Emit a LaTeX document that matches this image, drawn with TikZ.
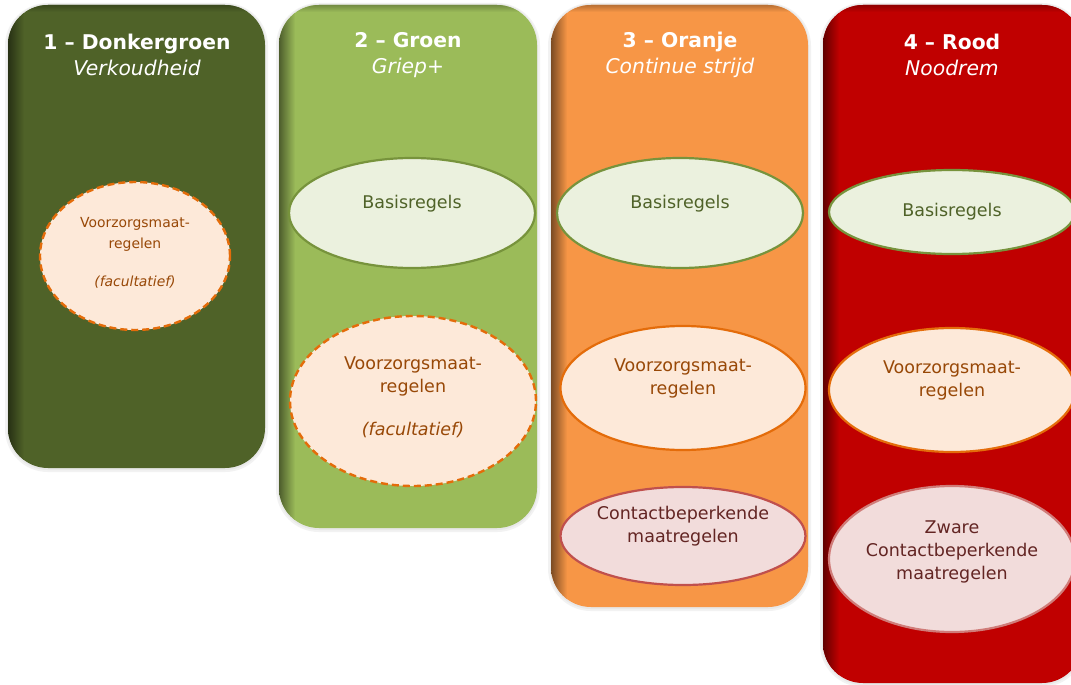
\documentclass[tikz,border=0pt]{standalone}
\usepackage{fontspec}
\setmainfont{DejaVu Sans}
\usetikzlibrary{shapes.geometric}
\definecolor{cA}{HTML}{4F6228}
\definecolor{cB}{HTML}{9BBB59}
\definecolor{cC}{HTML}{F79646}
\definecolor{cD}{HTML}{C00000}
\definecolor{fillG}{HTML}{EBF1DE}
\definecolor{lineG}{HTML}{77933C}
\definecolor{txtG}{HTML}{4F6228}
\definecolor{fillO}{HTML}{FDE9D9}
\definecolor{lineO}{HTML}{E46C0A}
\definecolor{txtO}{HTML}{984807}
\definecolor{fillR}{HTML}{F2DCDB}
\definecolor{lineR}{HTML}{C0504D}
\definecolor{txtR}{HTML}{632523}
\newcommand\levelbox[6]{% name, x1, y1, x2, y2, colour
  \fill[black!5, rounded corners=43pt] (#2-3,#3-2) rectangle (#4+3,#5+4);
  \fill[black!9, rounded corners=41pt] (#2-1,#3-1) rectangle (#4+1,#5+2);
  \node[levelshape, fill=#6, minimum width=#4pt-#2pt, minimum height=#5pt-#3pt] (#1) at ({(#2+#4)/2},{(#3+#5)/2}) {};
  \begin{scope}
    \clip[rounded corners=40pt] (#2,#3) rectangle (#4,#5);
    \shade[top color=#6!75!black, bottom color=#6] (#2,#3) rectangle (#4,#3+7);
    \shade[left color=#6!50!black, right color=#6] (#2,#3) rectangle (#2+16,#5);
  \end{scope}}
\tikzset{
  levelshape/.style={rectangle, rounded corners=40pt, inner sep=0pt, draw=none},
  titletext/.style={text=white, align=center, font=\fontsize{20.3}{26}\selectfont},
  ell/.style={ellipse, inner sep=0pt, align=center, line width=2.2pt, font=\fontsize{17.5}{23}\selectfont},
  basis/.style={ell, fill=fillG, draw=lineG, text=txtG},
  voorz/.style={ell, fill=fillO, draw=lineO, text=txtO},
  optional/.style={voorz, line width=2.4pt, dash pattern=on 7pt off 4pt},
  contact/.style={ell, fill=fillR, draw=lineR, text=txtR},
}
\begin{document}
\begin{tikzpicture}[x=1pt,y=-1pt]
\useasboundingbox (0,0) rectangle (1071,685);
\clip (0,0) rectangle (1071,685);
\fill[white] (0,0) rectangle (1071,685);

\levelbox{L1}{8}{5}{265}{468}{cA}
\levelbox{L2}{279}{5}{537}{528}{cB}
\levelbox{L3}{551}{5}{808}{607}{cC}
\levelbox{L4}{823}{5}{1082}{683}{cD}

\node[titletext] (t1) at (137,55) {\textbf{1 – Donkergroen}\\\textit{Verkoudheid}};
\node[titletext] (t2) at (408,55) {\textbf{2 – Groen}\\\textit{Griep+}};
\node[titletext] (t3) at (680,55) {\textbf{3 – Oranje}\\\textit{Continue strijd}};
\node[titletext] (t4) at (952,55) {\textbf{4 – Rood}\\\textit{Noodrem}};

% column 1
\node[optional, minimum width=190pt, minimum height=148pt, font=\fontsize{13.9}{21}\selectfont] (v1) at (135,256)
  {Voorzorgsmaat-\\regelen\\[17pt]\textit{(facultatief)}\\[-13pt]~};
% column 2
\node[basis, minimum width=246pt, minimum height=110pt] (b2) at (412,213) {Basisregels\\~};
\node[optional, minimum width=246pt, minimum height=170pt] (v2) at (413,401)
  {Voorzorgsmaat-\\regelen\\[20pt]\textit{(facultatief)}\\[-13pt]~};
% column 3
\node[basis, minimum width=246pt, minimum height=110pt] (b3) at (680,213) {Basisregels\\~};
\node[voorz, minimum width=245pt, minimum height=124pt] (v3) at (683,388) {Voorzorgsmaat-\\regelen\\~};
\node[contact, minimum width=245pt, minimum height=98pt] (c3) at (683,536) {Contactbeperkende\\maatregelen\\~};
% column 4
\node[basis, minimum width=246pt, minimum height=84pt] (b4) at (952,212) {Basisregels};
\node[voorz, minimum width=246pt, minimum height=124pt] (v4) at (952,390) {Voorzorgsmaat-\\regelen\\~};
\node[contact, draw=lineR!75!white, minimum width=246pt, minimum height=146pt] (c4) at (952,559) {Zware\\Contactbeperkende\\maatregelen\\[-6pt]~};
\end{tikzpicture}
\end{document}
